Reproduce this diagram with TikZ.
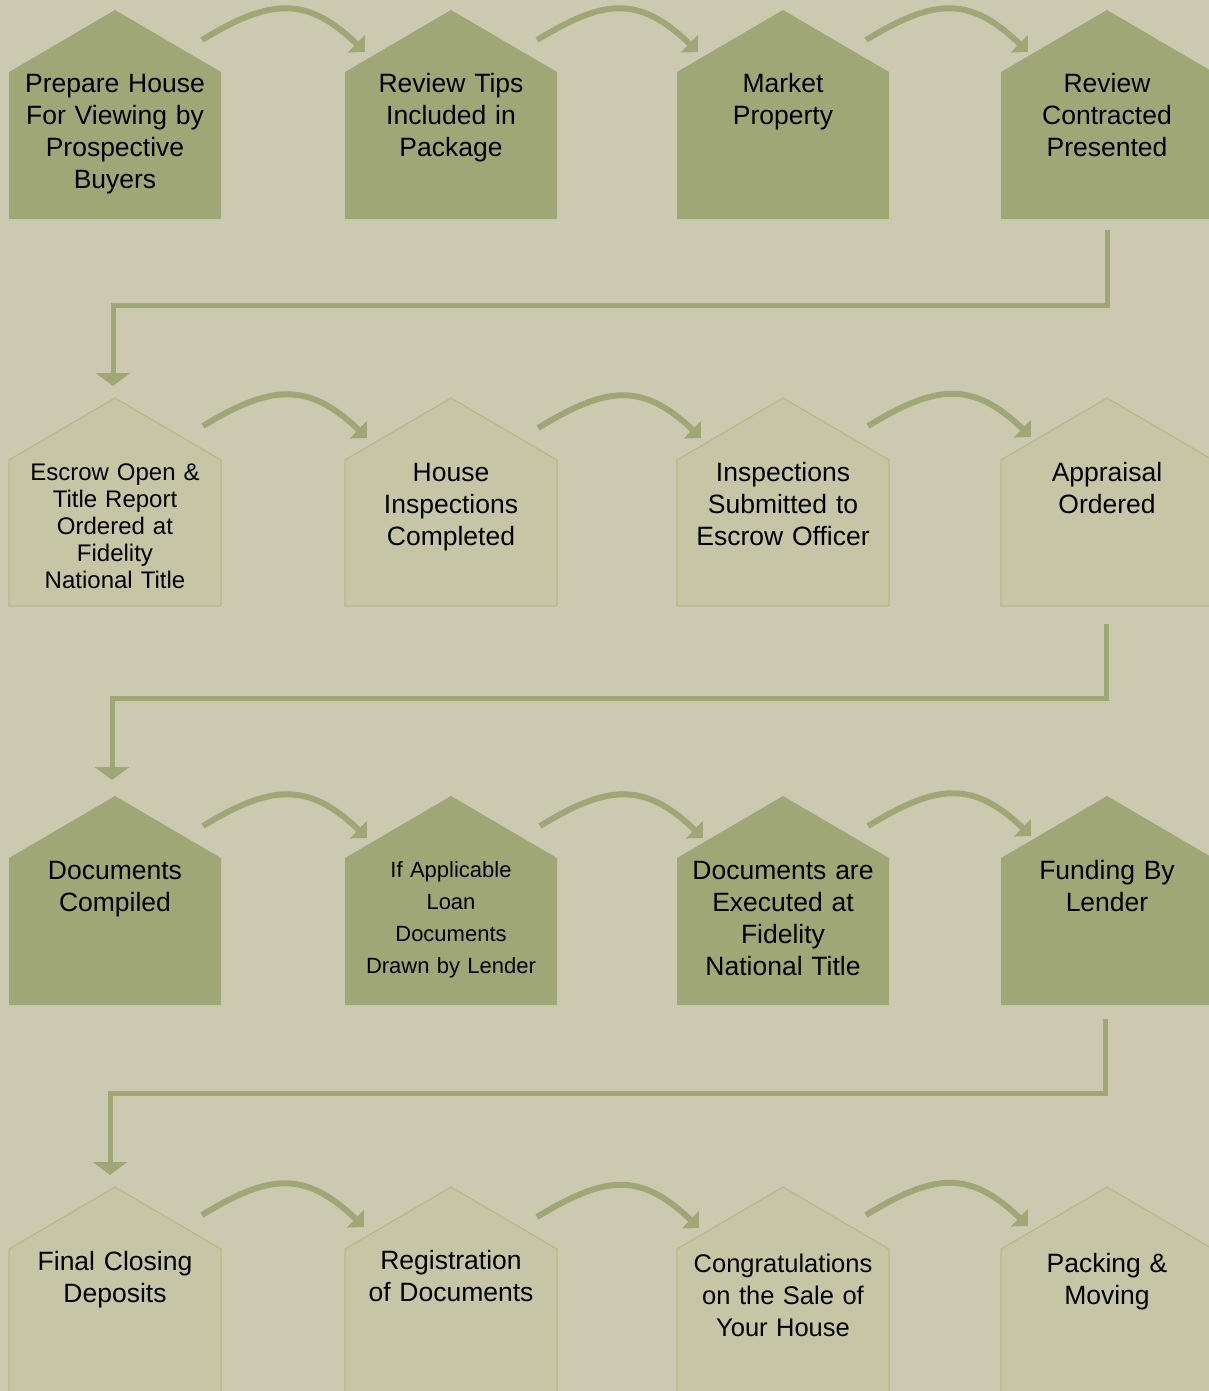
\documentclass[tikz,border=0pt]{standalone}
\usepackage{fontspec}
\setmainfont{Liberation Sans}
\usetikzlibrary{arrows.meta}
\definecolor{bgtan}{HTML}{CBCAB0}
\definecolor{olive}{HTML}{A0A777}
\definecolor{pale}{HTML}{C6C5A6}
\definecolor{paleedge}{HTML}{B7BB85}
\begin{document}
\begin{tikzpicture}[x=1pt,y=-1pt,
	darkhouse/.style={fill=olive},
	palehouse/.style={fill=pale,draw=paleedge,line width=1.2pt},
	housetext/.style={text width=210pt,align=center,inner sep=0pt,anchor=base,font=\fontsize{26.5}{32}\selectfont},
	hoparrow/.style={draw=olive,line width=6pt,-{Triangle[length=12pt,width=24pt]}},
	elbowarrow/.style={draw=olive,line width=5pt,-{Triangle[length=13pt,width=34pt]}}]
	\useasboundingbox (0,0) rectangle (1209,1391);
	\fill[bgtan] (0,0) rectangle (1209,1391);
	\clip (0,0) rectangle (1209,1391);
	% roof tops
	\coordinate (r1c1) at (115,10);   \coordinate (r1c2) at (451,10);
	\coordinate (r1c3) at (783,10);   \coordinate (r1c4) at (1107,10);
	\coordinate (r2c1) at (115,398);  \coordinate (r2c2) at (451,398);
	\coordinate (r2c3) at (783,398);  \coordinate (r2c4) at (1107,398);
	\coordinate (r3c1) at (115,796);  \coordinate (r3c2) at (451,796);
	\coordinate (r3c3) at (783,796);  \coordinate (r3c4) at (1107,796);
	\coordinate (r4c1) at (115,1187); \coordinate (r4c2) at (451,1187);
	\coordinate (r4c3) at (783,1187); \coordinate (r4c4) at (1107,1187);
	% houses
	\path[darkhouse] (r1c1) -- ++(106,62) -- ++(0,147) -- ++(-212,0) -- ++(0,-147) -- cycle;
	\path[darkhouse] (r1c2) -- ++(106,62) -- ++(0,147) -- ++(-212,0) -- ++(0,-147) -- cycle;
	\path[darkhouse] (r1c3) -- ++(106,62) -- ++(0,147) -- ++(-212,0) -- ++(0,-147) -- cycle;
	\path[darkhouse] (r1c4) -- ++(106,62) -- ++(0,147) -- ++(-212,0) -- ++(0,-147) -- cycle;
	\path[palehouse] (r2c1) -- ++(106,62) -- ++(0,146) -- ++(-212,0) -- ++(0,-146) -- cycle;
	\path[palehouse] (r2c2) -- ++(106,62) -- ++(0,146) -- ++(-212,0) -- ++(0,-146) -- cycle;
	\path[palehouse] (r2c3) -- ++(106,62) -- ++(0,146) -- ++(-212,0) -- ++(0,-146) -- cycle;
	\path[palehouse] (r2c4) -- ++(106,62) -- ++(0,146) -- ++(-212,0) -- ++(0,-146) -- cycle;
	\path[darkhouse] (r3c1) -- ++(106,62) -- ++(0,147) -- ++(-212,0) -- ++(0,-147) -- cycle;
	\path[darkhouse] (r3c2) -- ++(106,62) -- ++(0,147) -- ++(-212,0) -- ++(0,-147) -- cycle;
	\path[darkhouse] (r3c3) -- ++(106,62) -- ++(0,147) -- ++(-212,0) -- ++(0,-147) -- cycle;
	\path[darkhouse] (r3c4) -- ++(106,62) -- ++(0,147) -- ++(-212,0) -- ++(0,-147) -- cycle;
	\path[palehouse] (r4c1) -- ++(106,62) -- ++(0,160) -- ++(-212,0) -- ++(0,-160) -- cycle;
	\path[palehouse] (r4c2) -- ++(106,62) -- ++(0,160) -- ++(-212,0) -- ++(0,-160) -- cycle;
	\path[palehouse] (r4c3) -- ++(106,62) -- ++(0,160) -- ++(-212,0) -- ++(0,-160) -- cycle;
	\path[palehouse] (r4c4) -- ++(106,62) -- ++(0,160) -- ++(-212,0) -- ++(0,-160) -- cycle;
	% texts
	\node[housetext] (prepare) at ([shift={(0,83)}]r1c1) {Prepare House\\For Viewing by\\Prospective\\Buyers};
	\node[housetext] (tips) at ([shift={(0,83)}]r1c2) {Review Tips\\Included in\\Package};
	\node[housetext] (market) at ([shift={(0,83)}]r1c3) {Market\\Property};
	\node[housetext] (contract) at ([shift={(0,83)}]r1c4) {Review\\Contracted\\Presented};
	\node[housetext,font=\fontsize{24}{27}\selectfont] (escrow) at ([shift={(0,82)}]r2c1) {Escrow Open \&\\Title Report\\Ordered at\\Fidelity\\National Title};
	\node[housetext] (inspect) at ([shift={(0,83)}]r2c2) {House\\Inspections\\Completed};
	\node[housetext] (submit) at ([shift={(0,83)}]r2c3) {Inspections\\Submitted to\\Escrow Officer};
	\node[housetext] (appraisal) at ([shift={(0,83)}]r2c4) {Appraisal\\Ordered};
	\node[housetext] (compiled) at ([shift={(0,83)}]r3c1) {Documents\\Compiled};
	\node[housetext,font=\fontsize{22}{32}\selectfont] (loan) at ([shift={(0,81)}]r3c2) {If Applicable\\Loan\\Documents\\Drawn by Lender};
	\node[housetext] (executed) at ([shift={(0,83)}]r3c3) {Documents are\\Executed at\\Fidelity\\National Title};
	\node[housetext] (funding) at ([shift={(0,83)}]r3c4) {Funding By\\Lender};
	\node[housetext] (closing) at ([shift={(0,83)}]r4c1) {Final Closing\\Deposits};
	\node[housetext] (register) at ([shift={(0,82)}]r4c2) {Registration\\of Documents};
	\node[housetext,font=\fontsize{25.5}{32}\selectfont] (congrats) at ([shift={(0,85)}]r4c3) {Congratulations\\on the Sale of\\Your House};
	\node[housetext] (packing) at ([shift={(0,85)}]r4c4) {Packing \&\\Moving};
	% arrows along the rows
	\draw[hoparrow] ([shift={(87,30)}]r1c1) .. controls +(66,-40) and +(-60,-58) .. ([shift={(-86,42)}]r1c2);
	\draw[hoparrow] ([shift={(86,30)}]r1c2) .. controls +(66,-40) and +(-60,-58) .. ([shift={(-85,42)}]r1c3);
	\draw[hoparrow] ([shift={(83,30)}]r1c3) .. controls +(66,-40) and +(-60,-58) .. ([shift={(-79,42)}]r1c4);
	\draw[hoparrow] ([shift={(88,28)}]r2c1) .. controls +(66,-40) and +(-60,-58) .. ([shift={(-84,40)}]r2c2);
	\draw[hoparrow] ([shift={(87,30)}]r2c2) .. controls +(66,-40) and +(-60,-58) .. ([shift={(-82,40)}]r2c3);
	\draw[hoparrow] ([shift={(85,28)}]r2c3) .. controls +(66,-40) and +(-60,-58) .. ([shift={(-76,39)}]r2c4);
	\draw[hoparrow] ([shift={(88,30)}]r3c1) .. controls +(66,-40) and +(-60,-58) .. ([shift={(-84,42)}]r3c2);
	\draw[hoparrow] ([shift={(89,30)}]r3c2) .. controls +(66,-40) and +(-60,-58) .. ([shift={(-80,42)}]r3c3);
	\draw[hoparrow] ([shift={(85,30)}]r3c3) .. controls +(66,-40) and +(-60,-58) .. ([shift={(-76,40)}]r3c4);
	\draw[hoparrow] ([shift={(87,28)}]r4c1) .. controls +(66,-40) and +(-60,-58) .. ([shift={(-87,40)}]r4c2);
	\draw[hoparrow] ([shift={(86,30)}]r4c2) .. controls +(66,-40) and +(-60,-58) .. ([shift={(-84,41)}]r4c3);
	\draw[hoparrow] ([shift={(83,28)}]r4c3) .. controls +(66,-40) and +(-60,-58) .. ([shift={(-79,39)}]r4c4);
	% arrows between the rows
	\draw[elbowarrow] ([shift={(0,220)}]r1c4) -- ([shift={(0,295)}]r1c4) -| ([shift={(-2,-12)}]r2c1);
	\draw[elbowarrow] ([shift={(-1,226)}]r2c4) -- ([shift={(-1,300)}]r2c4) -| ([shift={(-3,-16)}]r3c1);
	\draw[elbowarrow] ([shift={(-2,223)}]r3c4) -- ([shift={(-2,297)}]r3c4) -| ([shift={(-5,-12)}]r4c1);
\end{tikzpicture}
\end{document}
